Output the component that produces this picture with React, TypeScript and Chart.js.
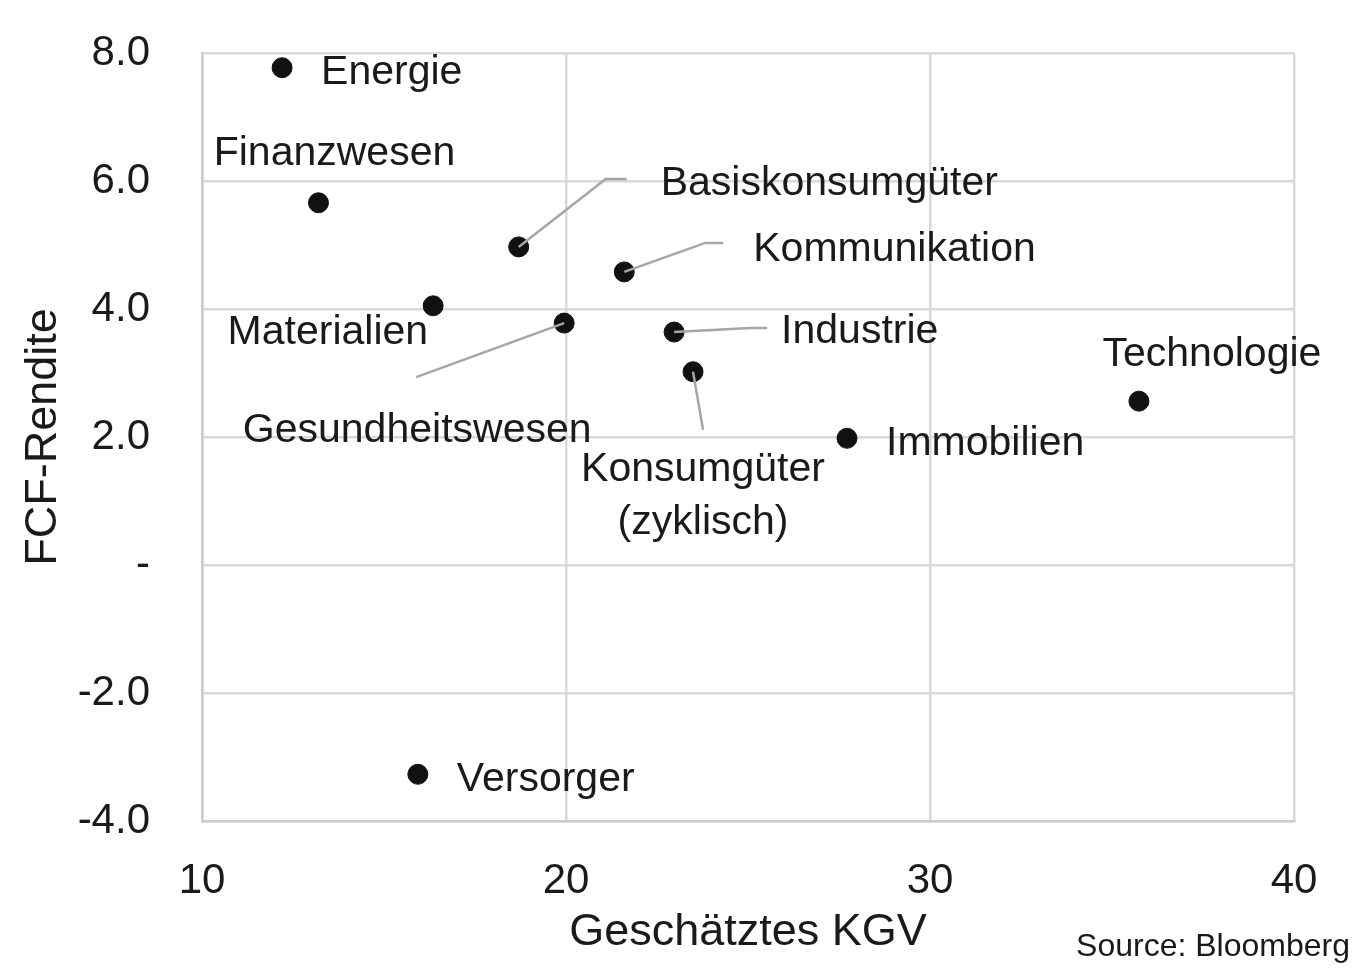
import React, { useEffect, useRef } from "react";
import { Chart, registerables } from "chart.js";

Chart.register(...registerables);

const sectors = [
  "Energie",
  "Finanzwesen",
  "Basiskonsumgüter",
  "Kommunikation",
  "Materialien",
  "Gesundheitswesen",
  "Industrie",
  "Konsumgüter\n(zyklisch)",
  "Immobilien",
  "Technologie",
  "Versorger",
];
const kgv = [12.2, 13.2, 18.7, 21.6, 16.35, 19.95, 22.97, 23.49, 27.72, 35.74, 15.93];
const fcfYield = [7.77, 5.66, 4.97, 4.58, 4.05, 3.78, 3.64, 3.02, 1.98, 2.56, -3.27];

const xTitle = "Geschätztes KGV";
const yTitle = "FCF-Rendite";
const sourceText = "Source: Bloomberg";

// label placement relative to each point (pixels): dx, dy, align, leader path
type Place = { dx: number; dy: number; align: CanvasTextAlign; leader?: number[][] };
const placements: Place[] = [
  { dx: 39, dy: 2, align: "left" },
  { dx: 16, dy: -52, align: "center" },
  { dx: 142, dy: -66, align: "left", leader: [[0, 0], [87, -68], [108, -68]] },
  { dx: 129, dy: -25, align: "left", leader: [[0, 0], [81, -29], [99, -29]] },
  { dx: -5, dy: 24, align: "right" },
  { dx: -147, dy: 105, align: "center", leader: [[0, 0], [-148, 54]] },
  { dx: 107, dy: -3, align: "left", leader: [[0, 0], [76, -4], [93, -4]] },
  { dx: 10, dy: 95, align: "center", leader: [[0, 0], [10, 58]] },
  { dx: 39, dy: 2, align: "left" },
  { dx: 73, dy: -49, align: "center" },
  { dx: 39, dy: 2, align: "left" },
];

const FONT = "'Liberation Sans', Arial, sans-serif";
const TEXT = "#1a1a1a";

const labelPlugin = {
  id: "pointLabels",
  afterDatasetsDraw(chart: any) {
    const ctx = chart.ctx as CanvasRenderingContext2D;
    const meta = chart.getDatasetMeta(0);
    ctx.save();
    meta.data.forEach((pt: any, i: number) => {
      const p = placements[i];
      const px = pt.x;
      const py = pt.y;
      if (p.leader) {
        ctx.beginPath();
        ctx.strokeStyle = "#a6a6a6";
        ctx.lineWidth = 2.5;
        p.leader.forEach((q, j) => {
          if (j === 0) ctx.moveTo(px + q[0], py + q[1]);
          else ctx.lineTo(px + q[0], py + q[1]);
        });
        ctx.stroke();
      }
      ctx.fillStyle = TEXT;
      ctx.font = `41px ${FONT}`;
      ctx.textAlign = p.align;
      ctx.textBaseline = "middle";
      const lines = sectors[i].split("\n");
      lines.forEach((ln, k) => {
        ctx.fillText(ln, px + p.dx, py + p.dy + 3 + k * 53);
      });
    });
    ctx.font = `32px ${FONT}`;
    ctx.textAlign = "right";
    ctx.textBaseline = "middle";
    ctx.fillStyle = TEXT;
    ctx.fillText(sourceText, chart.width - 14, 947);
    ctx.restore();
  },
};

export default function App() {
  const ref = useRef<HTMLCanvasElement | null>(null);
  useEffect(() => {
    if (!ref.current) return;
    const chart = new Chart(ref.current, {
      type: "scatter",
      data: {
        datasets: [
          {
            data: kgv.map((x, i) => ({ x, y: fcfYield[i] })),
            backgroundColor: "#111111",
            borderColor: "#111111",
            pointRadius: 10,
            pointHoverRadius: 10,
          },
        ],
      },
      options: {
        responsive: false,
        animation: false,
        layout: { padding: { top: 53, right: 70, left: 0, bottom: 0 } },
        plugins: { legend: { display: false }, tooltip: { enabled: false } },
        scales: {
          x: {
            type: "linear",
            min: 10,
            max: 40,
            ticks: {
              stepSize: 10,
              padding: 35,
              color: TEXT,
              font: { family: FONT, size: 42 },
            },
            grid: { color: "#d9d9d9", lineWidth: 2.5, drawTicks: false },
            border: { color: "#cccccc", width: 2.5 },
            title: {
              display: true,
              text: xTitle,
              color: TEXT,
              font: { family: FONT, size: 45, lineHeight: 1 },
              padding: { top: 0, bottom: 13 },
            },
            afterFit: (s: any) => {
              s.height = 147;
              s.paddingLeft = 0;
              s.paddingRight = 0;
            },
          },
          y: {
            type: "linear",
            min: -4,
            max: 8,
            ticks: {
              stepSize: 2,
              padding: 52,
              color: TEXT,
              font: { family: FONT, size: 42 },
              callback: (v: any) => (Number(v) === 0 ? "-" : Number(v).toFixed(1)),
            },
            grid: { color: "#d9d9d9", lineWidth: 2.5, drawTicks: false },
            border: { color: "#cccccc", width: 2.5 },
            title: {
              display: true,
              text: yTitle,
              color: TEXT,
              font: { family: FONT, size: 45, lineHeight: 1 },
              padding: { top: 21, bottom: 0 },
            },
            afterFit: (s: any) => {
              s.width = 202;
              s.paddingTop = 0;
              s.paddingBottom = 0;
            },
          },
        },
      },
      plugins: [labelPlugin],
    });
    return () => chart.destroy();
  }, []);
  return (
    <div style={{ position: "absolute", left: 0, top: 0, width: 1364, height: 968, background: "#fff" }}>
      <canvas ref={ref} width={1364} height={968} style={{ display: "block" }} />
    </div>
  );
}
